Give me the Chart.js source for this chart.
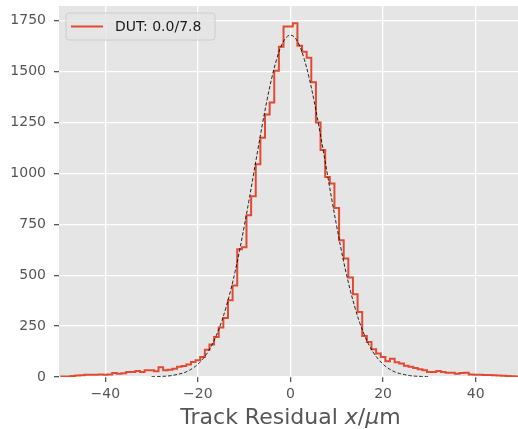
<!DOCTYPE html>
<html>
<head>
<meta charset="utf-8">
<script src="https://cdn.jsdelivr.net/npm/chart.js@4.4.0/dist/chart.umd.min.js"></script>
<style>
  html, body { margin: 0; padding: 0; background: #fff; }
  #wrap { width: 518px; height: 429px; }
</style>
</head>
<body>
<div id="wrap"><canvas id="residual-chart" width="518" height="429"></canvas></div>
<script>
// histogram bins (centres, 1 um wide) and counts
const binCenters = [
  -49, -48, -47, -46, -45, -44, -43, -42, -41, -40,
  -39, -38, -37, -36, -35, -34, -33, -32, -31, -30,
  -29, -28, -27, -26, -25, -24, -23, -22, -21, -20,
  -19, -18, -17, -16, -15, -14, -13, -12, -11, -10,
  -9, -8, -7, -6, -5, -4, -3, -2, -1, 0,
  1, 2, 3, 4, 5, 6, 7, 8, 9, 10,
  11, 12, 13, 14, 15, 16, 17, 18, 19, 20,
  21, 22, 23, 24, 25, 26, 27, 28, 29, 30,
  31, 32, 33, 34, 35, 36, 37, 38, 39, 40,
  41, 42, 43, 44, 45, 46, 47, 48, 49
];
const counts = [
  3, 3, 5, 7, 8, 11, 11, 11, 12, 11,
  12, 20, 16, 19, 25, 24, 30, 25, 33, 33,
  28, 48, 33, 36, 41, 50, 54, 62, 74, 82,
  98, 134, 160, 196, 243, 290, 377, 450, 628, 638,
  795, 888, 1046, 1176, 1290, 1349, 1505, 1623, 1722, 1722,
  1738, 1628, 1598, 1569, 1448, 1251, 1115, 983, 951, 830,
  672, 582, 489, 406, 320, 202, 172, 136, 115, 98,
  78, 90, 72, 66, 55, 50, 44, 38, 33, 25,
  25, 30, 24, 21, 21, 16, 20, 21, 12, 11,
  11, 10, 10, 8, 7, 6, 5, 4, 3
];
const binWidth = 1;

// dashed gaussian fit, read at whole microns
const fitX = [
  -30, -29, -28, -27, -26, -25, -24, -23, -22, -21, -20,
  -19, -18, -17, -16, -15, -14, -13, -12, -11, -10,
  -9, -8, -7, -6, -5, -4, -3, -2, -1, 0,
  1, 2, 3, 4, 5, 6, 7, 8, 9, 10,
  11, 12, 13, 14, 15, 16, 17, 18, 19, 20,
  21, 22, 23, 24, 25, 26, 27, 28, 29, 30
];
const fitY = [
  1, 2, 3, 4, 6, 10, 15, 21, 31, 45, 63,
  87, 117, 156, 205, 264, 336, 419, 514, 621, 739,
  863, 993, 1123, 1250, 1368, 1473, 1560, 1626, 1666, 1680,
  1666, 1626, 1560, 1473, 1368, 1250, 1123, 993, 863, 739,
  621, 514, 419, 336, 264, 205, 156, 117, 87, 63,
  45, 31, 21, 15, 10, 6, 4, 3, 2, 1
];

const xTicks = [-40, -20, 0, 20, 40];
const yTicks = [0, 250, 500, 750, 1000, 1250, 1500, 1750];
const legendLabel = 'DUT: 0.0/7.8';
const xTitleParts = [
  ['Track Residual ', 'normal'],
  ['x', 'italic'],
  ['/', 'normal'],
  ['\u03bc', 'italic'],
  ['m', 'normal']
];

const FONT = '"DejaVu Sans", "Liberation Sans", sans-serif';
const RED = '#E24A33';

// outline points: value holds from left edge to next edge
const stepPoints = [{ x: binCenters[0] - binWidth / 2, y: 0 }];
binCenters.forEach((c, i) => stepPoints.push({ x: c - binWidth / 2, y: counts[i] }));
stepPoints.push({ x: binCenters[binCenters.length - 1] + binWidth / 2, y: 0 });

const fitPoints = fitX.map((x, i) => ({ x: x, y: fitY[i] }));

const panelBackground = {
  id: 'panelBackground',
  beforeDraw(chart) {
    const { ctx, chartArea: a } = chart;
    ctx.save();
    ctx.fillStyle = '#ffffff';
    ctx.fillRect(0, 0, chart.width, chart.height);
    ctx.fillStyle = '#E5E5E5';
    ctx.fillRect(a.left, a.top, a.right - a.left, a.bottom - a.top);
    ctx.restore();
  }
};

const legendBox = {
  id: 'legendBox',
  afterDatasetsDraw(chart) {
    const { ctx, chartArea: a } = chart;
    const x = a.left + 7, y = a.top + 7, w = 149, h = 27, r = 3;
    ctx.save();
    ctx.beginPath();
    ctx.moveTo(x + r, y);
    ctx.lineTo(x + w - r, y);
    ctx.arcTo(x + w, y, x + w, y + r, r);
    ctx.lineTo(x + w, y + h - r);
    ctx.arcTo(x + w, y + h, x + w - r, y + h, r);
    ctx.lineTo(x + r, y + h);
    ctx.arcTo(x, y + h, x, y + h - r, r);
    ctx.lineTo(x, y + r);
    ctx.arcTo(x, y, x + r, y, r);
    ctx.closePath();
    ctx.fillStyle = 'rgba(229,229,229,0.8)';
    ctx.fill();
    ctx.strokeStyle = '#cccccc';
    ctx.lineWidth = 1;
    ctx.stroke();

    ctx.strokeStyle = RED;
    ctx.lineWidth = 2;
    ctx.beginPath();
    ctx.moveTo(x + 5, y + 13.5);
    ctx.lineTo(x + 37, y + 13.5);
    ctx.stroke();

    ctx.fillStyle = '#1a1a1a';
    ctx.font = '14px ' + FONT;
    ctx.textBaseline = 'middle';
    ctx.fillText(legendLabel, x + 49, y + 14);
    ctx.restore();
  }
};

const xAxisTitle = {
  id: 'xAxisTitle',
  afterDraw(chart) {
    const ctx = chart.ctx;
    const cx = chart.scales.x.getPixelForValue(0);
    ctx.save();
    ctx.fillStyle = '#555555';
    ctx.textBaseline = 'alphabetic';
    let total = 0;
    const widths = xTitleParts.map(([t, style]) => {
      ctx.font = style + ' 22px ' + FONT;
      const wdt = ctx.measureText(t).width;
      total += wdt;
      return wdt;
    });
    let px = cx - total / 2;
    xTitleParts.forEach(([t, style], i) => {
      ctx.font = style + ' 22px ' + FONT;
      ctx.fillText(t, px, 424);
      px += widths[i];
    });
    ctx.restore();
  }
};

const ctx = document.getElementById('residual-chart').getContext('2d');
new Chart(ctx, {
  type: 'line',
  data: {
    datasets: [
      {
        label: 'fit',
        data: fitPoints,
        borderColor: 'rgba(0,0,0,0.85)',
        borderWidth: 1,
        borderDash: [3.5, 2],
        pointRadius: 0,
        tension: 0.4,
        fill: false,
        clip: 0,
        order: 0
      },
      {
        label: legendLabel,
        data: stepPoints,
        borderColor: RED,
        borderWidth: 2,
        stepped: 'before',
        pointRadius: 0,
        fill: false,
        clip: 0,
        order: 1
      }
    ]
  },
  options: {
    responsive: false,
    animation: false,
    devicePixelRatio: 1,
    layout: { padding: { top: 6, right: 0, left: 0, bottom: 0 } },
    plugins: {
      legend: { display: false },
      tooltip: { enabled: false }
    },
    scales: {
      x: {
        type: 'linear',
        min: -50,
        max: 49.15,
        border: { display: false },
        grid: { color: '#ffffff', lineWidth: 1.3, tickColor: '#555555', tickLength: 5 },
        ticks: {
          color: '#555555',
          font: { family: FONT, size: 14 },
          padding: 4,
          maxRotation: 0,
          includeBounds: false,
          callback: (v) => String(v).replace('-', '\u2212')
        },
        afterBuildTicks: (scale) => { scale.ticks = xTicks.map(v => ({ value: v })); },
        afterFit: (scale) => {
          scale.height = 52;
          scale.paddingLeft = 0;
          scale.paddingRight = 0;
        }
      },
      y: {
        type: 'linear',
        min: 0,
        max: 1823,
        border: { display: false },
        grid: { color: '#ffffff', lineWidth: 1.3, tickColor: '#555555', tickLength: 5 },
        ticks: {
          color: '#555555',
          font: { family: FONT, size: 14 },
          padding: 8,
          includeBounds: false,
          callback: (v) => String(v)
        },
        afterBuildTicks: (scale) => { scale.ticks = yTicks.map(v => ({ value: v })); },
        afterFit: (scale) => {
          scale.width = 59;
          scale.paddingTop = 0;
          scale.paddingBottom = 0;
        }
      }
    }
  },
  plugins: [panelBackground, legendBox, xAxisTitle]
});
</script>
</body>
</html>
